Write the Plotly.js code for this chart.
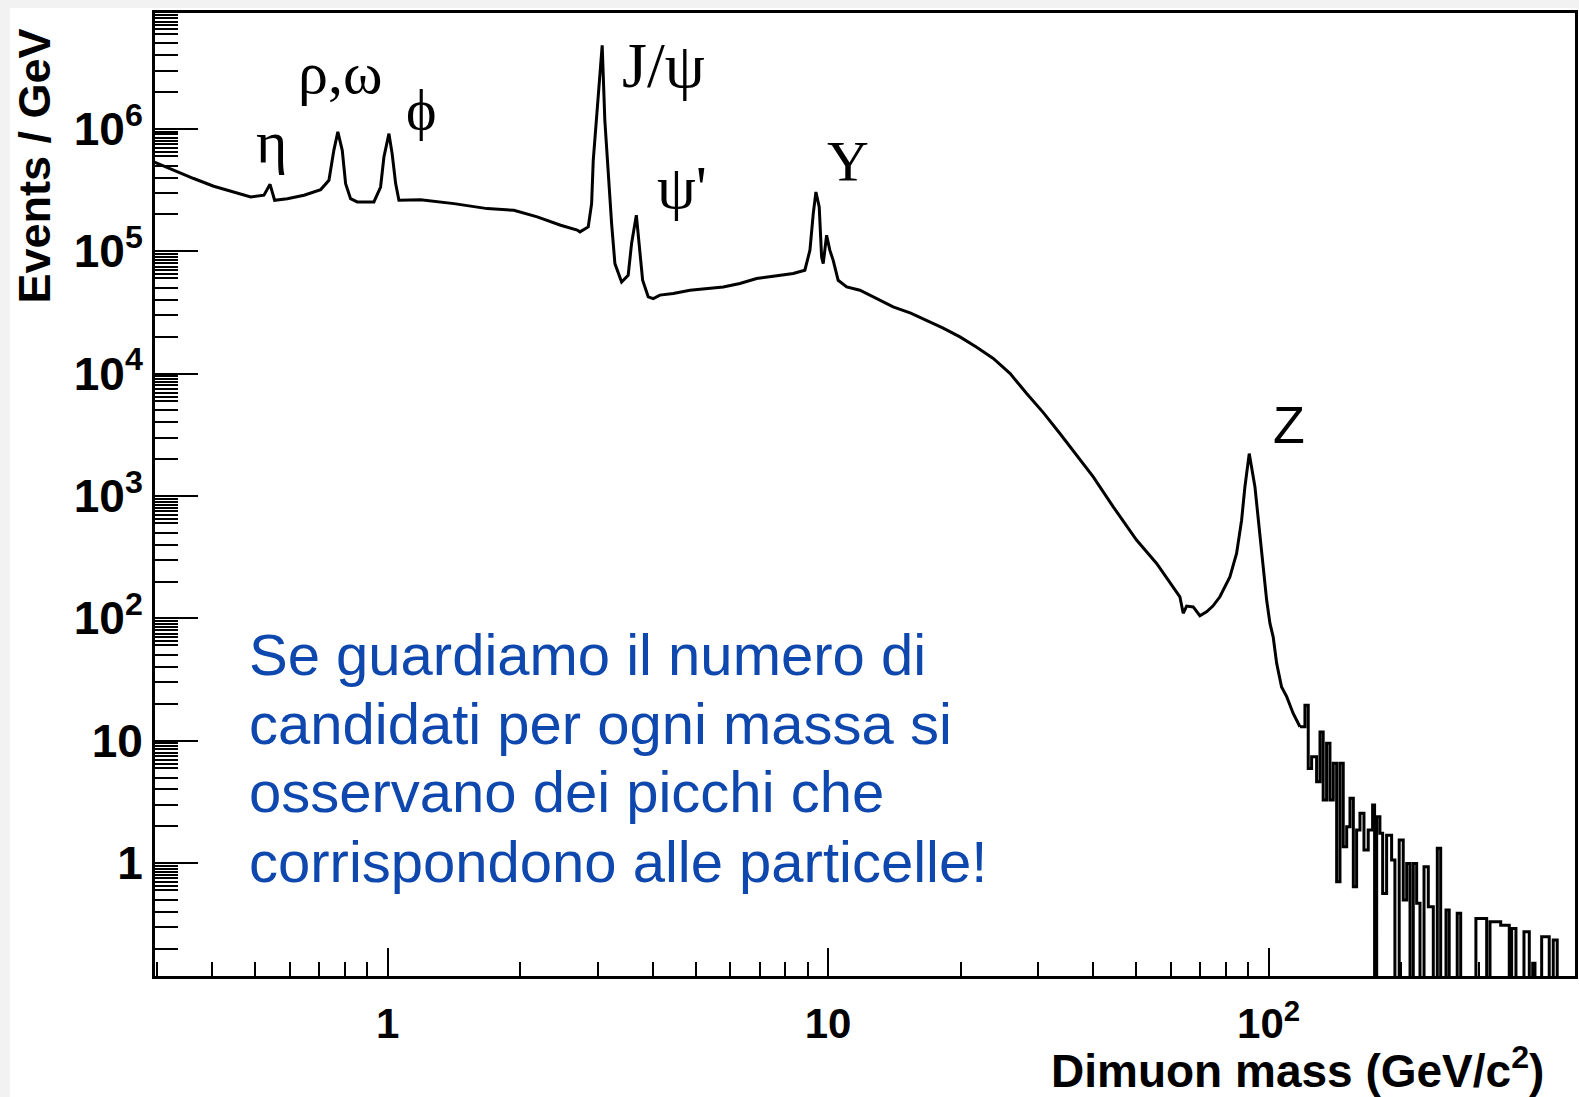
<!DOCTYPE html>
<html>
<head>
<meta charset="utf-8">
<script src="https://cdn.plot.ly/plotly-3.0.1.min.js"></script>
<style>html,body{margin:0;padding:0;background:#fff;}#chart{width:1579px;height:1097px;}</style>
</head>
<body>
<div id="chart"></div>
<script>
// ---- Data (dimuon mass in GeV/c^2, events per GeV) ----
const massGeV = [0.295,0.327,0.363,0.403,0.448,0.489,0.524,0.541,0.554,0.592,0.646,0.705,0.736,0.755,0.771,0.789,0.803,0.824,0.853,0.931,0.964,0.981,1.007,1.024,1.043,1.061,1.188,1.415,1.683,1.935,2.186,2.471,2.694,2.733,2.854,2.905,2.930,2.982,3.04,3.07,3.113,3.168,3.225,3.281,3.398,3.517,3.580,3.67,3.726,3.793,3.905,4.009,4.151,4.451,4.857,5.780,6.306,6.883,7.506,8.332,8.856,9.094,9.253,9.383,9.546,9.666,9.748,9.922,10.09,10.27,10.54,11.02,11.81,12.23,13.12,14.05,15.4,16.74,18.2,19.92,21.7,23.71,25.9,28.23,30.8,33.59,36.6,39.99,44.39,50.14,55.69,60.73,62.89,63.99,65.14,67.43,69.82,72.30,74.72,77.51,81.67,84.58,86.83,88.35,90.36,93.09,95.56,98.08,98.97,100.7,102.4,104.3,107.0,109.9,113.7,117.8];
const eventsPerGeV = [537000,459000,393000,340000,305000,278000,287000,352000,261000,269000,287000,319000,380000,668000,944000,668000,357000,269000,253000,253000,335000,589000,914000,628000,357000,261000,264000,245000,223000,216000,191000,163000,149000,144000,158000,245000,553000,1330000,3010000,4820000,1170000,405000,168000,79300,56100,63700,116000,197000,108000,57900,42400,41000,43800,45100,48000,51100,54500,59800,62500,65800,70000,102000,203000,305000,230000,89700,79300,135000,102000,84300,57900,51100,48000,45100,39800,35100,31200,27300,23600,19950,16500,13300,10000,6870,4800,3240,2150,1430,815,436,281,181,150,110,126,124,105,113,126,150,218,339,634,1190,2220,1190,463,181,141,90.8,70.6,42.8,27.5,22.9,16.7,13.0];

// high-mass tail, histogram bins (left edge, value); 0 = empty bin
const tailMass = [117.8,120.9,123.0,125.2,128.5,130.8,133.0,135.4,137.8,140.2,142.7,145.2,147.7,150.4,153.0,155.7,158.4,161.2,164.6,168.3,172.2,174.0,175.9,178.9,181.5,185.3,190.2,193.5,197.9,202.1,205.8,209.4,213.0,216.8,220.6,225.3,230.4,236.5,241.5,245.8,252.7,257.0,268.0,272.9,295.5,312.6,318.1,336.4,351.8,356.2,364.3,379.9,390.6,397.6,402.4,416.7,433.5,442.7,452.0,496.0];
const tailEvents = [13.0,19.5,5.94,7.38,4.61,11.8,3.27,9.51,3.27,6.53,0.703,6.53,1.36,1.98,3.38,0.640,1.86,2.55,1.28,1.86,2.98,0,2.39,1.75,0.565,1.69,1.06,0,1.54,0.499,0.993,0,0.993,0.469,0,0.933,0.440,0,1.32,0,0.413,0,0.388,0,0.353,0,0.331,0.311,0,0.292,0,0.275,0,0.152,0,0.250,0,0.235,0,0];

// ---- Axis ticks ----
const xTickVals = [1, 10, 100];
const xTickText = ['1', '10', '10<sup>2</sup>'];
const yTickVals = [1, 10, 100, 1000, 10000, 100000, 1000000];
const yTickText = ['1', '10', '10<sup>2</sup>', '10<sup>3</sup>', '10<sup>4</sup>', '10<sup>5</sup>', '10<sup>6</sup>'];
const xMinorMantissa = [2,3,4,5,6,7,8,9];
const yMinorMantissa = [2,3,4,5,6,6.5,7,7.5,8,8.5,9,9.5];

// ---- Text ----
const peakLabels = ['η', 'ρ,ω', 'ϕ', 'J/ψ', "ψ'", 'Υ', 'Z'];
const noteLines = ['Se guardiamo il numero di', 'candidati per ogni massa si', 'osservano dei picchi che', 'corrispondono alle particelle!'];
const xTitle = 'Dimuon mass (GeV/c<sup>2</sup>)';
const yTitle = 'Events / GeV';

// build minor tick lists
function minorTicks(mant, decades, lo, hi) {
  const out = [];
  decades.forEach(d => mant.forEach(m => { const v = m * d; if (v > lo && v < hi) out.push(v); }));
  return out;
}
const xMinor = minorTicks(xMinorMantissa, [0.1, 1, 10, 100], 0.296, 495);
const yMinor = minorTicks(yMinorMantissa, [0.1, 1, 10, 100, 1000, 1e4, 1e5, 1e6], 0.12, 8.8e6);

const FLOOR = 1e-3; // empty bins drawn down past the axis
const tailY = tailEvents.map(v => v > 0 ? v : FLOOR);

const traces = [
  { x: massGeV, y: eventsPerGeV, type: 'scatter', mode: 'lines',
    line: { color: '#000', width: 3, shape: 'linear' }, hoverinfo: 'x+y', showlegend: false },
  { x: tailMass, y: tailY, type: 'scatter', mode: 'lines',
    line: { color: '#000', width: 3, shape: 'hv' }, hoverinfo: 'x+y', showlegend: false }
];

const serif = 'Liberation Serif, DejaVu Serif, serif';
const sans = 'Liberation Sans, Arial, Helvetica, sans-serif';

const labelPos = [
  { x: 0.0817, y: 0.8661, size: 60, font: serif },
  { x: 0.1303, y: 0.9380, size: 60, font: serif },
  { x: 0.1880, y: 0.9003, size: 58, font: serif },
  { x: 0.3580, y: 0.9460, size: 64, font: serif },
  { x: 0.3708, y: 0.8190, size: 62, font: serif },
  { x: 0.4880, y: 0.8460, size: 58, font: serif },
  { x: 0.7986, y: 0.5725, size: 52, font: sans }
];
const noteY = [0.3337, 0.2627, 0.1916, 0.1184];

const annotations = [];
peakLabels.forEach((t, i) => annotations.push({
  text: t, xref: 'paper', yref: 'paper', x: labelPos[i].x, y: labelPos[i].y,
  xanchor: 'center', yanchor: 'middle', showarrow: false,
  font: { family: labelPos[i].font, size: labelPos[i].size, color: '#000' }
}));
noteLines.forEach((t, i) => annotations.push({
  text: t, xref: 'paper', yref: 'paper', x: 0.0645, y: noteY[i],
  xanchor: 'left', yanchor: 'middle', showarrow: false,
  font: { family: sans, size: 58, color: '#0e47ad' }
}));
annotations.push({
  text: xTitle, xref: 'paper', yref: 'paper', x: 0.9796, y: -0.0955,
  xanchor: 'right', yanchor: 'middle', showarrow: false,
  font: { family: sans, size: 46, color: '#000', weight: 'bold' }
});
annotations.push({
  text: yTitle, xref: 'paper', yref: 'paper', x: -0.0852, y: 0.8406,
  xanchor: 'center', yanchor: 'middle', showarrow: false, textangle: -90,
  font: { family: sans, size: 45, color: '#000', weight: 'bold' }
});

const layout = {
  width: 1579, height: 1097,
  margin: { l: 155, r: 4, t: 13, b: 121, pad: 0 },
  paper_bgcolor: '#fff', plot_bgcolor: '#fff',
  showlegend: false,
  xaxis: {
    type: 'log', range: [-0.528, 2.6955], autorange: false,
    tickmode: 'array', tickvals: xTickVals, ticktext: xTickText,
    ticks: 'inside', ticklen: 28, tickwidth: 2, tickcolor: '#000',
    ticklabelstandoff: 9,
    tickfont: { family: sans, size: 42, color: '#000', weight: 'bold' },
    showgrid: false, zeroline: false,
    showline: true, linecolor: '#000', linewidth: 3, mirror: true,
    minor: { tickmode: 'array', tickvals: xMinor, ticks: 'inside', ticklen: 14, tickwidth: 2, tickcolor: '#000', showgrid: false }
  },
  yaxis: {
    type: 'log', range: [-0.923, 6.947], autorange: false,
    tickmode: 'array', tickvals: yTickVals, ticktext: yTickText,
    ticks: 'inside', ticklen: 43, tickwidth: 2, tickcolor: '#000',
    ticklabelstandoff: 0,
    tickfont: { family: sans, size: 46, color: '#000', weight: 'bold' },
    showgrid: false, zeroline: false,
    showline: true, linecolor: '#000', linewidth: 3, mirror: true,
    minor: { tickmode: 'array', tickvals: yMinor, ticks: 'inside', ticklen: 23, tickwidth: 2, tickcolor: '#000', showgrid: false }
  },
  shapes: [
    { type: 'rect', xref: 'paper', yref: 'paper', x0: -0.1092, x1: -0.1022, y0: -0.126, y1: 1.0135, fillcolor: '#f2f2f2', line: { width: 0 }, layer: 'below' },
    { type: 'rect', xref: 'paper', yref: 'paper', x0: -0.1092, x1: 1.003, y0: 1.0052, y1: 1.0135, fillcolor: '#f2f2f2', line: { width: 0 }, layer: 'below' }
  ],
  annotations: annotations
};

Plotly.newPlot('chart', traces, layout, { displayModeBar: false, staticPlot: true });
</script>
</body>
</html>
